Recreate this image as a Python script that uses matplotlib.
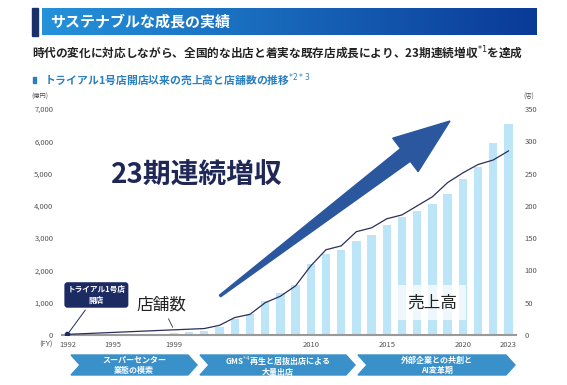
import numpy as np
import matplotlib.pyplot as plt
from matplotlib.patches import Polygon, Rectangle
from matplotlib.colors import LinearSegmentedColormap
from matplotlib.ticker import FuncFormatter

plt.rcParams['font.family'] = ['Noto Sans CJK JP', 'DejaVu Sans']

# 売上高 (億円) と 店舗数 (店)、1期ずつ
sales = [3, 5, 8, 12, 18, 25, 35, 50, 80, 130,
         240, 490, 650, 1060, 1310, 1550, 2200, 2500, 2630, 2900,
         3110, 3420, 3640, 3850, 4060, 4370, 4820, 5210, 5960, 6540]
stores = [1, 2, 3, 4, 5, 6, 7, 8, 9, 10,
          15, 27, 32, 50, 60, 76, 107, 132, 138, 160,
          166, 180, 186, 200, 214, 236, 251, 264, 271, 285]
tick_pos = [0, 3, 7, 16, 21, 26, 29]
tick_labels = ["1992", "1995", "1999", "2010", "2015", "2020", "2023"]
phases = ["スーパーセンター\n業態の模索",
          "GMS$^{*4}$再生と居抜出店による\n大量出店",
          "外部企業との共創と\nAI変革期"]

W, H = 567, 385
fig = plt.figure(figsize=(W / 100, H / 100), dpi=100)


def px(x, y):
    return (x / W, 1 - y / H)


# タイトル帯
fig.patches.append(Rectangle(px(32, 35.5), 6 / W, 27.5 / H, color='#1b2f6b',
                             transform=fig.transFigure))
bax = fig.add_axes([41.7 / W, 1 - 35.5 / H, (536 - 41.7) / W, 27.5 / H])
cmap = LinearSegmentedColormap.from_list('band', ['#2592da', '#0a3a98'])
bax.imshow(np.linspace(0, 1, 256)[None, :], cmap=cmap, aspect='auto')
bax.axis('off')
fig.text(*px(50, 22), "サステナブルな成長の実績", color='white',
         fontsize=10.8, fontweight='bold', va='center')

fig.text(*px(32, 53.5), "時代の変化に対応しながら、全国的な出店と着実な既存店成長により、23期連続増収$^{*1}$を達成",
         fontsize=8.4, fontweight='bold', color='#222222', va='center')

fig.patches.append(Rectangle(px(32.5, 83.3), 3.5 / W, 6.6 / H, color='#2a7fc1',
                             transform=fig.transFigure))
fig.text(*px(44, 80), "トライアル1号店開店以来の売上高と店舗数の推移$^{*2*3}$",
         fontsize=7.8, fontweight='bold', color='#2a7fc1', va='center')

# グラフ本体
ax = fig.add_axes([61.7 / W, 1 - 335 / H, (516 - 61.7) / W, (335 - 109) / H])
x = np.arange(len(sales))
ax.bar(x, sales, width=0.55, color='#bce6f7', zorder=1)
ax.set_xlim(-0.38, 29.5)
ax.set_ylim(0, 7000)
for s in ['top', 'left', 'right']:
    ax.spines[s].set_visible(False)
ax.spines['bottom'].set_color('#9a9a9a')
ax.spines['bottom'].set_linewidth(1.5)
ax.set_yticks(range(0, 7001, 1000))
ax.yaxis.set_major_formatter(FuncFormatter(lambda v, p: f"{int(v):,}"))
ax.tick_params(axis='y', length=0, labelsize=5.5, labelcolor='#555555', pad=6)
ax.set_xticks(tick_pos, tick_labels)
ax.tick_params(axis='x', length=0, labelsize=5.5, labelcolor='#555555', pad=4)

ax.text(24, 1000, "売上高", ha='center', va='center', fontsize=12, color='#222222',
        bbox=dict(boxstyle='square,pad=0.55', fc='white', ec='none', alpha=0.75), zorder=3)

ax2 = ax.twinx()
ax2.set_ylim(0, 350)
ax2.plot(x, stores, color='#2b2f5a', lw=0.9)
ax2.plot(x[0], stores[0], 'o', ms=3, color='#1d2b63')
for s in ['top', 'left', 'right', 'bottom']:
    ax2.spines[s].set_visible(False)
ax2.set_yticks(range(0, 351, 50))
ax2.tick_params(axis='y', length=0, labelsize=5.5, labelcolor='#555555', pad=6)

ax2.annotate("店舗数", xy=(7, stores[7]), xytext=(6.2, 46.5), ha='center', va='center',
             fontsize=12, color='#222222',
             arrowprops=dict(arrowstyle='-', color='#333333', lw=0.6))
ax2.annotate("トライアル1号店\n開店", xy=(0, stores[0]), xytext=(1.9, 62),
             ha='center', va='center', fontsize=5.5, color='white', fontweight='bold',
             linespacing=1.2,
             bbox=dict(boxstyle='round,pad=0.4', fc='#1d2b63', ec='none'),
             arrowprops=dict(arrowstyle='-', color='#1d2b63', lw=0.7))

fig.text(*px(40, 97), "(億円)", fontsize=4.5, color='#555555', ha='center', va='center')
fig.text(*px(529, 97), "(店)", fontsize=4.5, color='#555555', ha='center', va='center')
fig.text(*px(53, 345), "(FY)", fontsize=5.5, color='#555555', ha='right', va='center')

fig.text(*px(196.5, 175.5), "23期連続増収", fontsize=20, fontweight='bold',
         color='#1f2757', ha='center', va='center')

# 右上がりの矢印
tail = np.array([220.0, 296.0])
tip = np.array([450.0, 121.0])
u = (tip - tail) / np.linalg.norm(tip - tail)
n = np.array([-u[1], u[0]])
base = tail + 233 * u
pts = [tail - n * 1, base - n * 8, base - n * 21, tip, base + n * 21, base + n * 8, tail + n * 1]
fig.patches.append(Polygon([px(*p) for p in pts], closed=True, color='#2b579f',
                           transform=fig.transFigure))

# 時代区分
chevrons = [(71, 188), (200, 346), (358, 506)]
for (left, right), label in zip(chevrons, phases):
    shape = [(left, 355), (right, 355), (right + 9, 365), (right, 375),
             (left, 375), (left + 9, 365)]
    fig.patches.append(Polygon([px(*p) for p in shape], closed=True, color='#3a90c8',
                               transform=fig.transFigure))
    fig.text(*px((left + right + 9) / 2, 365.5), label, fontsize=5.8, color='white',
             fontweight='bold', ha='center', va='center', linespacing=1.1)

fig.savefig('out.png', dpi=100)
